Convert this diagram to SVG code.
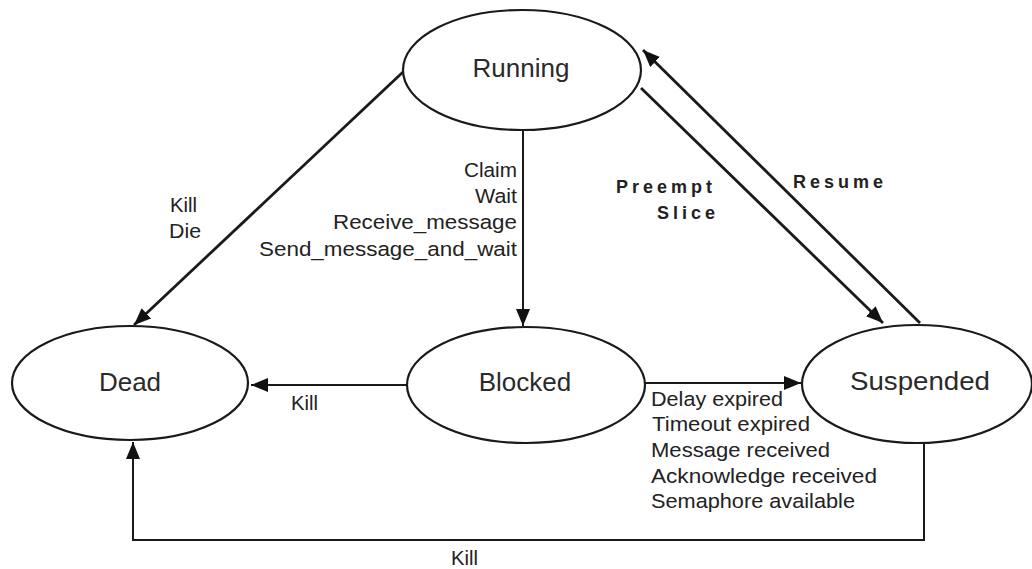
<svg xmlns="http://www.w3.org/2000/svg" width="1032" height="569" viewBox="0 0 1032 569">
<defs>
<style>
.node ellipse{fill:#fff;stroke:#1a1a1a;stroke-width:2.2}
.node text{font-family:"Liberation Sans",Arial,sans-serif;font-size:26px;fill:#2a2a2a;text-anchor:middle}
.edge{fill:none;stroke:#1a1a1a;stroke-width:2;marker-end:url(#arr)}
.thick{stroke-width:2.8}
.lbl{font-family:"Liberation Sans",Arial,sans-serif;font-size:20.5px;fill:#222}
.blbl{font-family:"Liberation Sans",Arial,sans-serif;font-size:18px;font-weight:bold;fill:#222;letter-spacing:4px}
</style>
<marker id="arr" markerUnits="userSpaceOnUse" markerWidth="18" markerHeight="14" refX="17" refY="7" orient="auto">
<path d="M0,0 L17,7 L0,14 z" fill="#111"/>
</marker>
</defs>
<rect width="1032" height="569" fill="#fff"/>
<g id="connectors">
<line class="edge thick" x1="403" y1="72" x2="134" y2="325"/>
<line class="edge" x1="523" y1="130" x2="523" y2="326"/>
<line class="edge" x1="407" y1="385" x2="251" y2="385"/>
<line class="edge" x1="645" y1="383" x2="801" y2="383"/>
<polyline class="edge" points="924,443 924,540 133,540 133,442"/>
<line class="edge thick" x1="641" y1="88" x2="883" y2="323"/>
<line class="edge thick" x1="920" y1="323" x2="643" y2="50"/>
<text class="lbl" x="170" y="212" textLength="27" lengthAdjust="spacingAndGlyphs">Kill</text>
<text class="lbl" x="169" y="238" textLength="32" lengthAdjust="spacingAndGlyphs">Die</text>
<text class="lbl" x="464" y="177" textLength="53" lengthAdjust="spacingAndGlyphs">Claim</text>
<text class="lbl" x="475" y="203" textLength="42" lengthAdjust="spacingAndGlyphs">Wait</text>
<text class="lbl" x="333" y="229" textLength="184" lengthAdjust="spacingAndGlyphs">Receive_message</text>
<text class="lbl" x="259" y="256" textLength="258" lengthAdjust="spacingAndGlyphs">Send_message_and_wait</text>
<text class="blbl" x="616" y="193">Preempt</text>
<text class="blbl" x="657" y="219">Slice</text>
<text class="blbl" x="793" y="188">Resume</text>
<text class="lbl" x="291" y="410" textLength="27" lengthAdjust="spacingAndGlyphs">Kill</text>
<text class="lbl" x="451" y="565" textLength="27" lengthAdjust="spacingAndGlyphs">Kill</text>
<text class="lbl" x="651" y="406" textLength="132" lengthAdjust="spacingAndGlyphs">Delay expired</text>
<text class="lbl" x="652" y="431" textLength="158" lengthAdjust="spacingAndGlyphs">Timeout expired</text>
<text class="lbl" x="651" y="457" textLength="179" lengthAdjust="spacingAndGlyphs">Message received</text>
<text class="lbl" x="651" y="483" textLength="226" lengthAdjust="spacingAndGlyphs">Acknowledge received</text>
<text class="lbl" x="651" y="508" textLength="204" lengthAdjust="spacingAndGlyphs">Semaphore available</text>
</g>
<g id="running" class="node"><ellipse cx="522" cy="70" rx="119" ry="60"/><text x="521" y="77">Running</text></g>
<g id="dead" class="node"><ellipse cx="130" cy="383" rx="118" ry="57"/><text x="130" y="391">Dead</text></g>
<g id="blocked" class="node"><ellipse cx="526" cy="385" rx="119" ry="58"/><text x="525" y="391">Blocked</text></g>
<g id="suspended" class="node"><ellipse cx="917" cy="384" rx="115" ry="59"/><text x="920" y="390" textLength="140" lengthAdjust="spacingAndGlyphs">Suspended</text></g>
</svg>
